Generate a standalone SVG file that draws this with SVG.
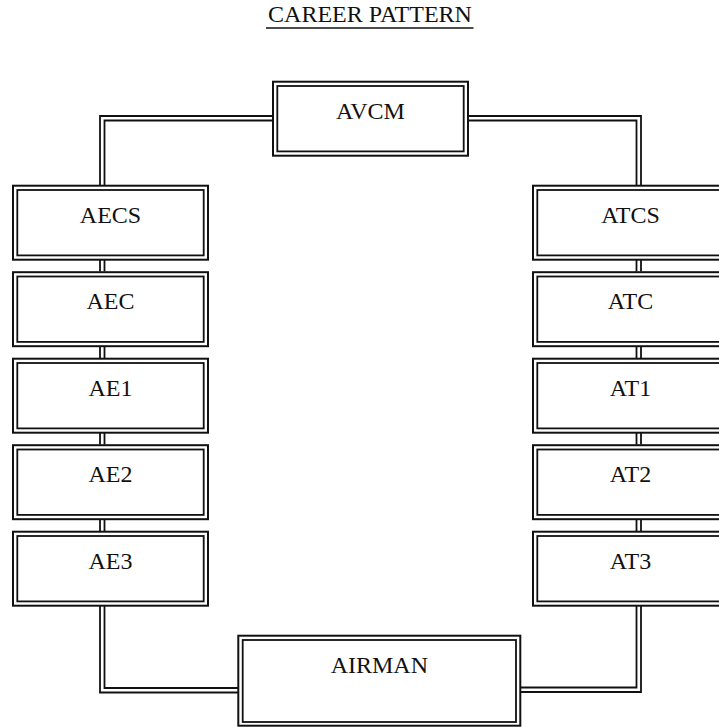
<svg xmlns="http://www.w3.org/2000/svg" width="719" height="727" viewBox="0 0 719 727">
<style>
.o{fill:#fff;stroke:#111;stroke-width:2}
.i{fill:none;stroke:#111;stroke-width:1.8}
.c{fill:none;stroke:#111;stroke-width:1.8}
text{font-family:"Liberation Serif","Times New Roman",serif;font-size:24px;fill:#111;text-anchor:middle}
</style>
<rect width="719" height="727" fill="#fff"/>
<g id="title">
<text x="370" y="21.5">CAREER PATTERN</text>
<line x1="266" y1="28" x2="473.5" y2="28" stroke="#111" stroke-width="1.3"/>
</g>
<g id="connectors">
<path class="c" d="M100,185 V116 H273 M104.5,185 V120.5 H273"/>
<path class="c" d="M468,116 H641 V185 M468,120.5 H636.5 V185"/>
<path class="c" d="M100,606 V692.5 H238 M104.5,606 V688 H238"/>
<path class="c" d="M520,687.5 H636.5 V606 M520,692 H641 V606"/>
<path class="c" d="M100,260 V271.5 M104.5,260 V271.5 M100,346.5 V358 M104.5,346.5 V358 M100,433 V444.5 M104.5,433 V444.5 M100,519.5 V531 M104.5,519.5 V531"/>
<path class="c" d="M636.5,260 V271.5 M641,260 V271.5 M636.5,346.5 V358 M641,346.5 V358 M636.5,433 V444.5 M641,433 V444.5 M636.5,519.5 V531 M641,519.5 V531"/>
</g>
<g id="avcm"><rect class="o" x="273" y="81.7" width="195" height="74"/><rect class="i" x="277.3" y="86" width="186.4" height="65.4"/><text x="370.5" y="119.3">AVCM</text></g>
<g id="aecs"><rect class="o" x="13" y="185.7" width="195" height="74"/><rect class="i" x="17.3" y="190" width="186.4" height="65.4"/><text x="110.5" y="223.3">AECS</text></g>
<g id="aec"><rect class="o" x="13" y="272.2" width="195" height="74"/><rect class="i" x="17.3" y="276.5" width="186.4" height="65.4"/><text x="110.5" y="309.3">AEC</text></g>
<g id="ae1"><rect class="o" x="13" y="358.7" width="195" height="74"/><rect class="i" x="17.3" y="363" width="186.4" height="65.4"/><text x="110.5" y="395.8">AE1</text></g>
<g id="ae2"><rect class="o" x="13" y="445.2" width="195" height="74"/><rect class="i" x="17.3" y="449.5" width="186.4" height="65.4"/><text x="110.5" y="482.3">AE2</text></g>
<g id="ae3"><rect class="o" x="13" y="531.7" width="195" height="74"/><rect class="i" x="17.3" y="536" width="186.4" height="65.4"/><text x="110.5" y="568.8">AE3</text></g>
<g id="atcs"><rect class="o" x="533" y="185.7" width="195" height="74"/><rect class="i" x="537.3" y="190" width="186.4" height="65.4"/><text x="630.5" y="223.3">ATCS</text></g>
<g id="atc"><rect class="o" x="533" y="272.2" width="195" height="74"/><rect class="i" x="537.3" y="276.5" width="186.4" height="65.4"/><text x="630.5" y="309.3">ATC</text></g>
<g id="at1"><rect class="o" x="533" y="358.7" width="195" height="74"/><rect class="i" x="537.3" y="363" width="186.4" height="65.4"/><text x="630.5" y="395.8">AT1</text></g>
<g id="at2"><rect class="o" x="533" y="445.2" width="195" height="74"/><rect class="i" x="537.3" y="449.5" width="186.4" height="65.4"/><text x="630.5" y="482.3">AT2</text></g>
<g id="at3"><rect class="o" x="533" y="531.7" width="195" height="74"/><rect class="i" x="537.3" y="536" width="186.4" height="65.4"/><text x="630.5" y="568.8">AT3</text></g>
<g id="airman"><rect class="o" x="238.3" y="635.7" width="282" height="90"/><rect class="i" x="242.7" y="640" width="273.3" height="82"/><text x="379.3" y="673.3">AIRMAN</text></g>
</svg>
